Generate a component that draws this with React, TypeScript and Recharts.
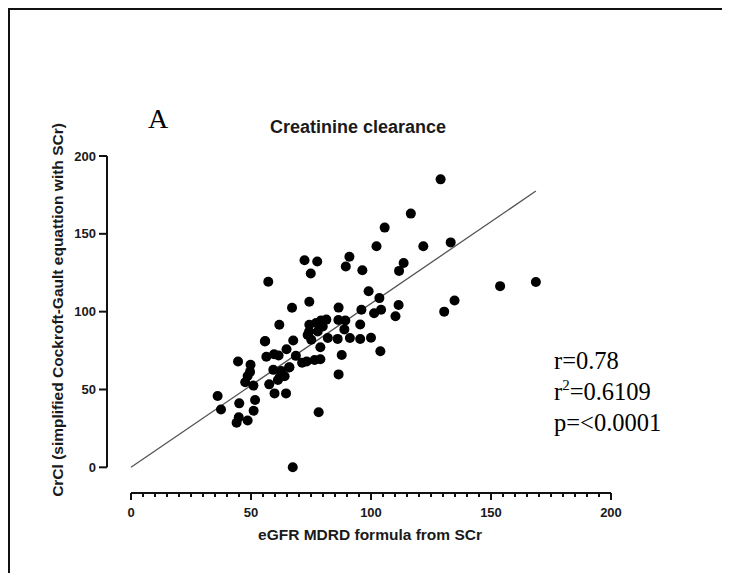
import {
  ScatterChart,
  Scatter,
  XAxis,
  YAxis,
  ReferenceLine,
} from 'recharts';

// eGFR MDRD (x) and simplified Cockroft-Gault CrCl (y)
const EGFR_VALUES = [
  129, 116.6, 105.7, 102.3, 121.8, 133.2, 113.6, 111.7, 91, 89.5,
  96.4, 72.3, 77.6, 74.9, 57.2, 153.8, 168.7, 134.8, 130.5, 99,
  103.5, 111.5, 74.3, 67.1, 86.5, 104.2, 101.3, 96, 110.2,
  95.5, 89.3, 86.4, 81.4, 79.2, 77.1, 74.3, 79.9, 88.9, 77.8,
  74.2, 73.6, 75.1, 82, 86.1, 91.2, 95.5, 100, 67.6, 61.8, 55.9,
  78.9, 64.8, 87.8, 103.9, 56.4, 59.6, 61.5, 68.7, 71.3, 73.2,
  76.5, 78.9, 66, 86.5, 44.6, 49.8,
  59.3, 62.6, 65.9, 62, 64, 61.2, 57.6, 59.8, 64.6,
  49.6, 48.6, 47.6, 51, 55.8, 36.1, 37.5, 45.1, 51.7, 51.1,
  44.9, 44, 48.6, 78.2, 67.4,
];
const CRCL_VALUES = [
  185, 163, 154, 142, 142, 144.5, 131.3, 126.2, 135.3, 129,
  126.6, 133, 132.2, 124.5, 119.2, 116.4, 119, 107.2, 100, 113.1,
  108.7, 104.3, 106.4, 102.5, 102.6, 101.2, 99, 101.2, 97.1,
  91.8, 94.3, 94.6, 94.9, 94.4, 92.7, 91.6, 90.5, 88.6, 87.3,
  87.3, 85, 81.9, 83.1, 82.5, 83.1, 82.4, 83.2, 81.5, 91.6, 81.2,
  77.1, 75.9, 72.2, 74.6, 71, 72.6, 71.8, 71.6, 67.2, 68,
  69, 69.4, 64.3, 59.7, 68, 65.9,
  62.6, 61.8, 64.2, 57.9, 58.5, 56.1, 53.3, 47.5, 47.5,
  61.3, 58.7, 54.6, 52.5, 80.8, 45.8, 37.2, 41.1, 43.2, 36.3,
  32.1, 28.6, 30.1, 35.4, 0,
];

const X_TICKS = Array.from({ length: 41 }, (_, i) => i * 5);
const Y_TICKS = [0, 50, 100, 150, 200];

const FIT_SLOPE = 1.052;
const FIT_X_END = 168.7;

const STATS = ['r=0.78', 'r2=0.6109', 'p=<0.0001'];

// axis offsets of the original (x axis hangs below 0, y axis sits left of 0)
const X_MIN = -10;
const Y_MIN = -16.5;

// plot box in px, used to trim the axis lines so they stop at 0 like the original
const PLOT_W = 504;
const PLOT_H = 337;
const X_GAP = (PLOT_W * (0 - X_MIN)) / (200 - X_MIN);
const Y_LEN = (PLOT_H * 200) / (200 - Y_MIN);

const points = EGFR_VALUES.map((x, i) => ({ x, y: CRCL_VALUES[i] }));

const SANS = '"Liberation Sans", Arial, sans-serif';
const SERIF = '"Liberation Serif", "Times New Roman", serif';
const INK = '#111';
const TEXT = '#1a1a1a';

const XTick = (props: any) => {
  const { x, y, payload } = props;
  const major = payload.value % 50 === 0;
  return (
    <g>
      <line x1={x} y1={y} x2={x} y2={y + (major ? 7 : 4)} stroke={INK} strokeWidth={2} />
      {major && (
        <text
          x={x}
          y={y + 24}
          textAnchor="middle"
          fontFamily={SANS}
          fontWeight="bold"
          fontSize={13}
          fill={TEXT}
        >
          {payload.value}
        </text>
      )}
    </g>
  );
};

const Dot = (props: any) => <circle cx={props.cx} cy={props.cy} r={5} fill="#000" />;

export default function App() {
  return (
    <div
      style={{
        position: 'relative',
        width: 720,
        height: 565,
        boxSizing: 'border-box',
        borderTop: `2px solid ${INK}`,
        borderLeft: `2px solid ${INK}`,
        borderRight: `2px solid ${INK}`,
        background: '#fff',
      }}
    >
      <ScatterChart
        width={716}
        height={563}
        margin={{ top: 146, right: 115, bottom: 50, left: 37 }}
      >
        <XAxis
          type="number"
          dataKey="x"
          domain={[X_MIN, 200]}
          allowDataOverflow
          ticks={X_TICKS}
          interval={0}
          height={30}
          axisLine={{ stroke: INK, strokeWidth: 2, strokeDasharray: `0 ${X_GAP} ${PLOT_W}` }}
          tickLine={false}
          tickSize={0}
          tickMargin={0}
          tick={<XTick />}
        />
        <YAxis
          type="number"
          dataKey="y"
          domain={[Y_MIN, 200]}
          allowDataOverflow
          ticks={Y_TICKS}
          interval={0}
          width={60}
          axisLine={{ stroke: INK, strokeWidth: 2, strokeDasharray: `${Y_LEN} ${PLOT_H}` }}
          tickSize={8}
          tickMargin={3}
          tickLine={{ stroke: INK, strokeWidth: 2 }}
          tick={{ fontSize: 13, fontWeight: 'bold', fill: TEXT, fontFamily: SANS }}
        />
        <ReferenceLine
          segment={[{ x: 0, y: 0 }, { x: FIT_X_END, y: FIT_X_END * FIT_SLOPE }]}
          stroke="#555"
          strokeWidth={1.3}
          ifOverflow="visible"
        />
        <Scatter data={points} shape={<Dot />} isAnimationActive={false} />
      </ScatterChart>
      <svg
        width={716}
        height={563}
        style={{ position: 'absolute', left: 0, top: 0, pointerEvents: 'none' }}
      >
        <text x={138} y={118} fontFamily={SERIF} fontSize={28} fill="#000">
          A
        </text>
        <text
          x={348}
          y={122.5}
          textAnchor="middle"
          fontFamily={SANS}
          fontWeight="bold"
          fontSize={18}
          fill={TEXT}
        >
          Creatinine clearance
        </text>
        <text
          x={360}
          y={530}
          textAnchor="middle"
          fontFamily={SANS}
          fontWeight="bold"
          fontSize={15.5}
          fill={TEXT}
        >
          eGFR MDRD formula from SCr
        </text>
        <text
          transform="translate(53,300) rotate(-90)"
          textAnchor="middle"
          fontFamily={SANS}
          fontWeight="bold"
          fontSize={15.5}
          fill={TEXT}
        >
          CrCl (simplified Cockroft-Gault equattion with SCr)
        </text>
        {STATS.map((s, i) => (
          <text key={s} x={544} y={358.5 + i * 31} fontFamily={SERIF} fontSize={24.5} fill="#000">
            {s.startsWith('r2') ? (
              <>
                r
                <tspan fontSize={15} dy={-10}>
                  2
                </tspan>
                <tspan dy={10}>{s.slice(2)}</tspan>
              </>
            ) : (
              s
            )}
          </text>
        ))}
      </svg>
    </div>
  );
}
